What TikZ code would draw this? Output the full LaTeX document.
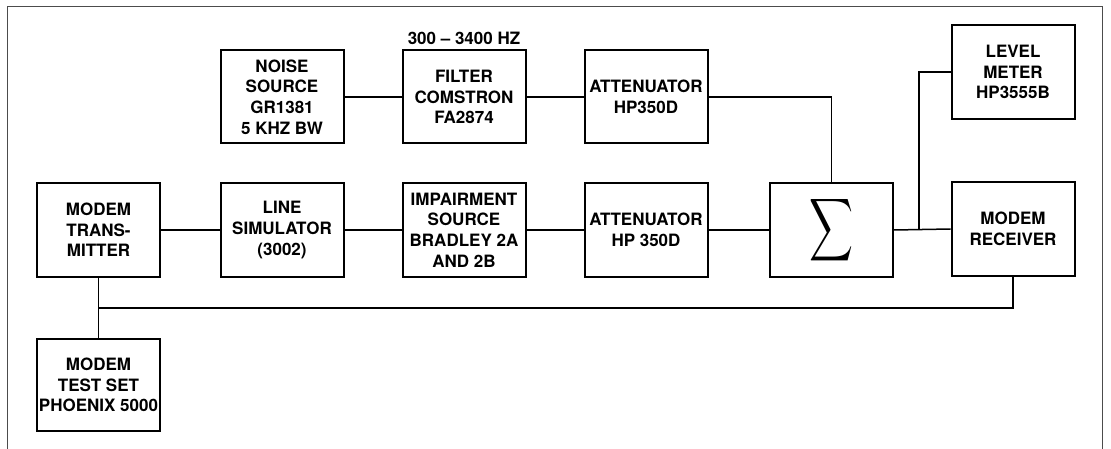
\documentclass[tikz,border=0pt]{standalone}
\usepackage{fontspec}
\usepackage{graphicx}
\newfontfamily\hv{TeX Gyre Heros}
\begin{document}
\begin{tikzpicture}[x=1pt,y=-1pt,
  blk/.style={draw=black, line width=2pt, minimum width=123pt, minimum height=93pt,
    inner sep=0pt, align=center, font=\hv\bfseries\fontsize{17}{20.7}\selectfont},
  wire/.style={line width=1.5pt},
  frameline/.style={draw=black!70, line width=0.9pt}]
\useasboundingbox (0,0) rectangle (1111,449);
\draw[frameline] (7,449) -- (7,6) -- (1102,6) -- (1102,449);

\node[blk] (noise)  at (282,97)   {NOISE\\SOURCE\\GR1381\\5 KHZ BW};
\node[blk] (filter) at (464,97)   {FILTER\\COMSTRON\\FA2874};
\node[font=\hv\bfseries\fontsize{17}{20.7}\selectfont] (band) at (464,38) {300 – 3400 HZ};
\node[blk] (att1)   at (646,97)   {ATTENUATOR\\HP350D};
\node[blk, minimum height=94pt] (level)  at (1013,72) {LEVEL\\METER\\HP3555B};

\node[blk] (tx)     at (98.5,230) {MODEM\\TRANS-\\MITTER};
\node[blk] (line)   at (282,230)  {LINE\\SIMULATOR\\(3002)};
\node[blk] (imp)    at (464,230)  {IMPAIRMENT\\SOURCE\\BRADLEY 2A\\AND 2B};
\node[blk] (att2)   at (646,230)  {ATTENUATOR\\HP 350D};
\node[blk] (sigma)  at (831.5,230) {\resizebox{44pt}{54pt}{$\displaystyle\sum$}};
\node[blk] (rx)     at (1013,229) {MODEM\\RECEIVER};
\node[blk, minimum height=92pt] (test) at (98.5,385) {MODEM\\TEST SET\\PHOENIX 5000};

\coordinate (j) at (919,229);
\coordinate (bus) at (98.5,308);

\draw[wire] (noise.east) -- (filter.west);
\draw[wire] (filter.east) -- (att1.west);
\draw[wire] (att1.east) -| (sigma.north);
\draw[wire] (tx.east) -- (line.west);
\draw[wire] (line.east) -- (imp.west);
\draw[wire] (imp.east) -- (att2.west);
\draw[wire] (att2.east) -- (sigma.west);
\draw[wire] (sigma.east) -- (rx.west);
\draw[wire] (j) |- (level.west);
\draw[wire] (tx.south) -- (test.north);
\draw[wire] (rx.south) |- (bus);
\end{tikzpicture}
\end{document}
